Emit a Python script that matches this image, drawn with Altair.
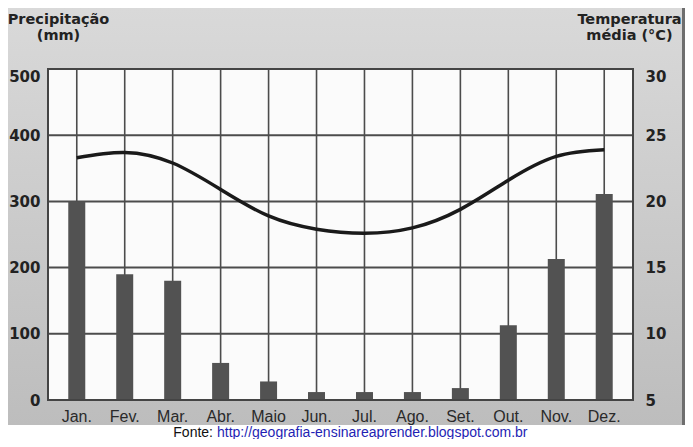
import altair as alt
import pandas as pd

months = ["Jan.", "Fev.", "Mar.", "Abr.", "Maio", "Jun.", "Jul.", "Ago.", "Set.", "Out.", "Nov.", "Dez."]
precip_mm = [300, 190, 180, 56, 28, 12, 12, 12, 18, 113, 213, 311]
temp_c = [23.3, 23.7, 22.9, 20.9, 18.9, 17.9, 17.6, 18.0, 19.4, 21.6, 23.4, 23.9]
precip_ticks = [0, 100, 200, 300, 400, 500]
temp_ticks = [5, 10, 15, 20, 25, 30]
left_title = ["Precipitação", "(mm)"]
right_title = ["Temperatura", "média (°C)"]
source_label = "Fonte:"
source_url = "http://geografia-ensinareaprender.blogspot.com.br"

df = pd.DataFrame({"mes": months, "precip": precip_mm, "temp": temp_c})
ticks_df = pd.DataFrame({"v": precip_ticks})
one = pd.DataFrame({"k": [0]})

W, H = 585, 331
AXC = "#222222"
GRID = "#4c4c4c"

xscale = alt.Scale(type="band", paddingInner=0, paddingOuter=0.1)
x_enc = alt.X(
    "mes:N", sort=months, scale=xscale,
    axis=alt.Axis(title=None, labelFont="Liberation Sans", labelFontSize=16, labelColor="#2a2a2a",
                  labelPadding=8, ticks=False, domain=False, grid=False, labelAngle=0, zindex=1),
)

panel = alt.Chart(one).mark_rect(
    fill=alt.Gradient(gradient="linear", x1=0, y1=0, x2=0, y2=1,
                      stops=[alt.GradientStop(color="#d9d9d9", offset=0),
                             alt.GradientStop(color="#bdbdbd", offset=1)]),
).encode(x=alt.value(-40), x2=alt.value(637), y=alt.value(-61), y2=alt.value(356))

edge = alt.Chart(one).mark_rect(fill="#6e6e6e").encode(
    x=alt.value(634), x2=alt.value(637), y=alt.value(-61), y2=alt.value(356))

plotbg = alt.Chart(one).mark_rect(fill="#fbfbfb").encode(
    x=alt.value(0), x2=alt.value(W), y=alt.value(0), y2=alt.value(H))

hgrid = alt.Chart(ticks_df).mark_rule(color=GRID, strokeWidth=2).encode(
    y=alt.Y("v:Q", scale=alt.Scale(domain=[0, 500], nice=False), axis=None),
    x=alt.value(0), x2=alt.value(W))

vgrid = alt.Chart(df).mark_rule(color=GRID, strokeWidth=1.6).encode(
    x=x_enc, y=alt.value(0), y2=alt.value(H))

bars = alt.Chart(df).mark_bar(color="#525252", size=17).encode(
    x=x_enc,
    y=alt.Y("precip:Q", scale=alt.Scale(domain=[0, 500], nice=False),
            axis=alt.Axis(values=precip_ticks, title=left_title, titleAngle=0, titleAlign="center",
                          titleBaseline="top", titleX=10, titleY=-57, titleFont="DejaVu Sans",
                          titleFontSize=14.5, titleFontWeight="bold", titleColor=AXC, titleLineHeight=16,
                          labelFont="DejaVu Sans", labelFontSize=15, labelFontWeight="bold",
                          labelColor=AXC, labelPadding=8, ticks=False, domain=False, grid=False,
                          zindex=1,
                          labelBaseline={"condition": {"test": "datum.value >= 500", "value": "top"},
                                         "value": "middle"})),
)

line = alt.Chart(df).mark_line(color="#1a1a1a", strokeWidth=3.5, interpolate="natural").encode(
    x=x_enc,
    y=alt.Y("temp:Q", scale=alt.Scale(domain=[5, 30], nice=False),
            axis=alt.Axis(orient="right", values=temp_ticks, title=right_title, titleAngle=0,
                          titleAlign="center", titleBaseline="top", titleX=-4, titleY=-57,
                          titleFont="DejaVu Sans", titleFontSize=14.5, titleFontWeight="bold",
                          titleColor=AXC, titleLineHeight=16, labelFont="DejaVu Sans", labelFontSize=15,
                          labelFontWeight="bold", labelColor=AXC, labelPadding=12, ticks=False,
                          domain=False, grid=False, zindex=1,
                          labelBaseline={"condition": {"test": "datum.value >= 30", "value": "top"},
                                         "value": "middle"})),
)

border = alt.Chart(one).mark_rect(fill=None, stroke="#444444", strokeWidth=2).encode(
    x=alt.value(0), x2=alt.value(W), y=alt.value(0), y2=alt.value(H))

src1 = alt.Chart(pd.DataFrame({"t": [source_label]})).mark_text(
    align="right", baseline="alphabetic", font="Liberation Sans", fontSize=14, color="#111111"
).encode(text="t:N", x=alt.value(165), y=alt.value(368))

src2 = alt.Chart(pd.DataFrame({"t": [source_url]})).mark_text(
    align="left", baseline="alphabetic", font="Liberation Sans", fontSize=14, color="#1f1fb4"
).encode(text="t:N", x=alt.value(169), y=alt.value(368))

chart = alt.layer(panel, edge, plotbg, hgrid, vgrid, bars, line, border, src1, src2).resolve_scale(
    y="independent"
).properties(
    width=W, height=H,
    padding={"left": 40, "top": 61, "right": 52, "bottom": 39},
    autosize=alt.AutoSizeParams(type="none"),
    background="white",
).configure_view(stroke=None)

chart.save("out.html", embed_options={"renderer": "svg", "actions": False})
